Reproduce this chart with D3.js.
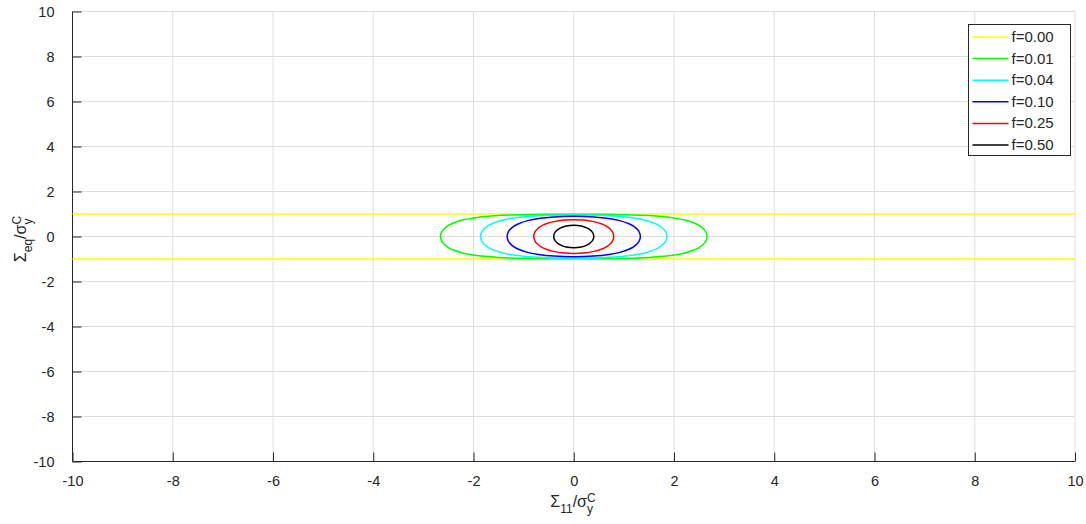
<!DOCTYPE html>
<html>
<head>
<meta charset="utf-8">
<script src="https://cdn.jsdelivr.net/npm/d3@7"></script>
<style>
  body { margin: 0; background: #fff; }
  text { font-family: "Liberation Sans", Arial, Helvetica, sans-serif; fill: #262626; }
</style>
</head>
<body>
<div id="chart"></div>
<script>
// Yield surfaces for several porosities f

var width = 1086;
var height = 524;

// plot box edges
var boxLeft = 72.5;
var boxRight = 1075;
var boxTop = 11.5;
var boxBottom = 461.5;

// tick values for both axes
var xTicks = [-10, -8, -6, -4, -2, 0, 2, 4, 6, 8, 10];
var yTicks = [-10, -8, -6, -4, -2, 0, 2, 4, 6, 8, 10];

// legend labels and colours
var fLabels = ["f=0.00", "f=0.01", "f=0.04", "f=0.10", "f=0.25", "f=0.50"];
var colors = ["#ffff00", "#00ff00", "#00ffff", "#0000ff", "#ff0000", "#000000"];

// f=0.00 : two straight lines at Sigma_eq = +-1 over the whole range
var flatLevel = 1.0;

// upper-right quarter of each closed curve (Sigma11, Sigma_eq)
var q001 = [[0, 0.99], [0.5, 0.986], [1.0, 0.970], [1.5, 0.930], [2.0, 0.825], [2.2, 0.740],
            [2.4, 0.601], [2.5, 0.491], [2.6, 0.312], [2.64, 0.181], [2.65, 0.123], [2.659, 0]];
var q004 = [[0, 0.96], [0.5, 0.943], [1.0, 0.875], [1.3, 0.786], [1.5, 0.679], [1.7, 0.490],
            [1.8, 0.310], [1.84, 0.178], [1.858, 0]];
var q010 = [[0, 0.90], [0.4, 0.872], [0.7, 0.803], [0.9, 0.717], [1.1, 0.568], [1.2, 0.446],
            [1.28, 0.285], [1.31, 0.181], [1.329, 0]];
var q025 = [[0, 0.75], [0.2, 0.730], [0.4, 0.661], [0.55, 0.564], [0.65, 0.459], [0.72, 0.347],
            [0.77, 0.219], [0.798, 0]];
var q050 = [[0, 0.50], [0.15, 0.465], [0.25, 0.393], [0.32, 0.304], [0.37, 0.194], [0.39, 0.114],
            [0.40, 0]];

var quarters = [q001, q004, q010, q025, q050];

var svg = d3.select("#chart")
    .append("svg")
    .attr("width", width)
    .attr("height", height)
    .style("background", "#fff");

var xScale = d3.scaleLinear().domain([-10, 10]).range([boxLeft, boxRight]);
var yScale = d3.scaleLinear().domain([-10, 10]).range([boxBottom, boxTop]);

// grid
svg.append("g")
    .selectAll("line")
    .data(xTicks)
    .enter()
    .append("line")
    .attr("x1", function(d) { return xScale(d); })
    .attr("x2", function(d) { return xScale(d); })
    .attr("y1", boxTop)
    .attr("y2", boxBottom)
    .attr("stroke", "#dedede")
    .attr("stroke-width", 1);

svg.append("g")
    .selectAll("line")
    .data(yTicks)
    .enter()
    .append("line")
    .attr("x1", boxLeft)
    .attr("x2", boxRight)
    .attr("y1", function(d) { return yScale(d); })
    .attr("y2", function(d) { return yScale(d); })
    .attr("stroke", "#dedede")
    .attr("stroke-width", 1);

// axes (ticks pointing inwards), plain hyphen for minus like the original
var plainNum = function(d) { return String(d); };
var xAxis = d3.axisBottom(xScale).tickValues(xTicks).tickSize(-9).tickPadding(14)
    .tickFormat(plainNum);
var yAxis = d3.axisLeft(yScale).tickValues(yTicks).tickSize(-9).tickPadding(18)
    .tickFormat(plainNum);

function styleAxis(g) {
    g.select(".domain").remove();
    g.selectAll(".tick line").attr("stroke", "#262626");
    g.selectAll(".tick text")
        .attr("font-size", 14.5)
        .attr("font-family", "Liberation Sans, Arial, sans-serif")
        .attr("fill", "#262626");
}

svg.append("g")
    .attr("transform", "translate(0," + boxBottom + ")")
    .call(xAxis)
    .call(styleAxis);

svg.append("g")
    .attr("transform", "translate(" + boxLeft + ",0)")
    .call(yAxis)
    .call(styleAxis);

// axis lines (left and bottom only)
svg.append("path")
    .attr("d", "M" + boxLeft + "," + boxTop + "V" + boxBottom + "H" + boxRight)
    .attr("fill", "none")
    .attr("stroke", "#262626")
    .attr("stroke-width", 1);

// curves
var plot = svg.append("g");

// f = 0.00
[flatLevel, -flatLevel].forEach(function(v) {
    plot.append("line")
        .attr("x1", xScale(-10))
        .attr("x2", xScale(10))
        .attr("y1", yScale(v))
        .attr("y2", yScale(v))
        .attr("stroke", colors[0])
        .attr("stroke-width", 1.5);
});

var loop = d3.line()
    .x(function(d) { return xScale(d[0]); })
    .y(function(d) { return yScale(d[1]); })
    .curve(d3.curveCatmullRomClosed.alpha(0.5));

// mirror the quarter into the four quadrants
function closedCurve(q) {
    var n = q.length;
    var upperRight = q;
    var lowerRight = q.slice(0, n - 1).reverse().map(function(p) { return [p[0], -p[1]]; });
    var lowerLeft = q.slice(1).map(function(p) { return [-p[0], -p[1]]; });
    var upperLeft = q.slice(1, n - 1).reverse().map(function(p) { return [-p[0], p[1]]; });
    return upperRight.concat(lowerRight, lowerLeft, upperLeft);
}

quarters.forEach(function(q, i) {
    plot.append("path")
        .attr("d", loop(closedCurve(q)))
        .attr("fill", "none")
        .attr("stroke", colors[i + 1])
        .attr("stroke-width", 1.5);
});

// legend
var legend = svg.append("g");
var legX = 968.5;
var legY = 24.5;
var legRow = 21.6;

legend.append("rect")
    .attr("x", legX)
    .attr("y", legY)
    .attr("width", 102)
    .attr("height", 131)
    .attr("fill", "#fff")
    .attr("stroke", "#262626")
    .attr("stroke-width", 1);

fLabels.forEach(function(lab, i) {
    var cy = legY + 12.5 + i * legRow;
    legend.append("line")
        .attr("x1", legX + 4)
        .attr("x2", legX + 40)
        .attr("y1", cy)
        .attr("y2", cy)
        .attr("stroke", colors[i])
        .attr("stroke-width", 1.5);
    legend.append("text")
        .attr("x", legX + 43)
        .attr("y", cy + 5)
        .attr("font-size", 15)
        .text(lab);
});

// x label: Sigma_11 / sigma_y^C
var xLab = svg.append("text")
    .attr("x", 573)
    .attr("y", 507)
    .attr("text-anchor", "middle")
    .attr("font-size", 16);
xLab.append("tspan").text("Σ");
xLab.append("tspan").attr("font-size", 12).attr("dy", 6).text("11");
xLab.append("tspan").attr("dy", -6).text("/σ");
xLab.append("tspan").attr("font-size", 12).attr("dy", 6).text("y");
xLab.append("tspan").attr("font-size", 12).attr("dx", -6).attr("dy", -11).text("C");

// y label: Sigma_eq / sigma_y^C
var yLab = svg.append("text")
    .attr("transform", "translate(26,239)rotate(-90)")
    .attr("text-anchor", "middle")
    .attr("font-size", 16);
yLab.append("tspan").text("Σ");
yLab.append("tspan").attr("font-size", 12).attr("dy", 6).text("eq");
yLab.append("tspan").attr("dy", -6).text("/σ");
yLab.append("tspan").attr("font-size", 12).attr("dy", 6).text("y");
yLab.append("tspan").attr("font-size", 12).attr("dx", -6).attr("dy", -11).text("C");
</script>
</body>
</html>
